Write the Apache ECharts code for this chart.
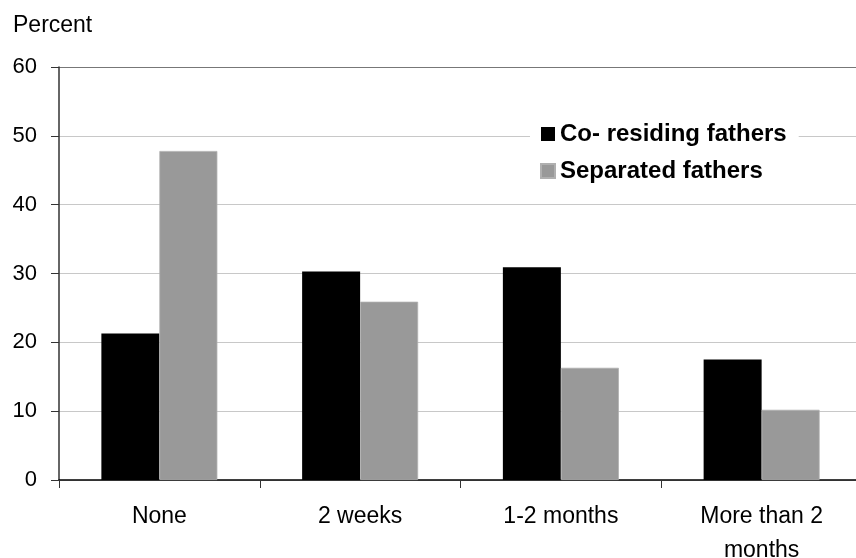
<!DOCTYPE html>
<html>
<head>
<meta charset="utf-8">
<script src="https://cdn.jsdelivr.net/npm/echarts@6/dist/echarts.min.js"></script>
<style>html,body{margin:0;padding:0;background:#fff}#c{width:856px;height:558px}</style>
</head>
<body>
<div id="c"></div>
<script>
const categories = ['None', '2 weeks', '1-2 months', 'More than 2\nmonths'];
const coResiding = [21.3, 30.3, 30.9, 17.5];
const separated = [47.8, 25.9, 16.3, 10.2];
const seriesNames = ['Co- residing fathers', 'Separated fathers'];
const yTicks = { min: 0, max: 60, interval: 10 };
const yTitle = 'Percent';

const FONT = '"Liberation Sans", Arial, sans-serif';
const chart = echarts.init(document.getElementById('c'), null, { renderer: 'canvas' });
chart.setOption({
  animation: false,
  backgroundColor: '#fff',
  graphic: [{
    type: 'text', left: 13, top: 14,
    style: { text: yTitle, font: '23px ' + FONT, fill: '#000' }
  }],
  grid: { left: 59, top: 67, width: 803, height: 413, containLabel: false, outerBoundsMode: 'none' },
  legend: {
    orient: 'vertical',
    left: 530, top: 116,
    backgroundColor: '#fff',
    padding: [6, 12, 6, 10],
    itemWidth: 14, itemHeight: 14,
    itemGap: 13,
    itemTextGap: 9,
    icon: 'rect',
    textStyle: { fontFamily: FONT, fontSize: 24, fontWeight: 'bold', color: '#000', lineHeight: 24 },
    data: seriesNames
  },
  xAxis: {
    type: 'category',
    data: categories,
    axisLine: { lineStyle: { color: '#000', width: 1.5 } },
    axisTick: { show: true, length: 8, lineStyle: { color: '#333' } },
    axisLabel: { fontFamily: FONT, fontSize: 23, color: '#000', margin: 20, lineHeight: 34, interval: 0 }
  },
  yAxis: {
    type: 'value',
    min: yTicks.min, max: yTicks.max, interval: yTicks.interval,
    axisLine: { show: true, lineStyle: { color: '#333', width: 1.5 } },
    axisTick: { show: true, length: 8, lineStyle: { color: '#333' } },
    axisLabel: { fontFamily: FONT, fontSize: 22, color: '#000', margin: 22 },
    splitLine: { show: true, lineStyle: { color: ['#c8c8c8','#c8c8c8','#c8c8c8','#c8c8c8','#c8c8c8','#c8c8c8','#777'], width: 1.2 } }
  },
  series: [
    { name: seriesNames[0], type: 'bar', data: coResiding, barWidth: 58, barGap: '0%',
      itemStyle: { color: '#000' } },
    { name: seriesNames[1], type: 'bar', data: separated, barWidth: 58,
      itemStyle: { color: '#999999', borderColor: '#b0b0b0', borderWidth: 0.8 } }
  ]
});
</script>
</body>
</html>
